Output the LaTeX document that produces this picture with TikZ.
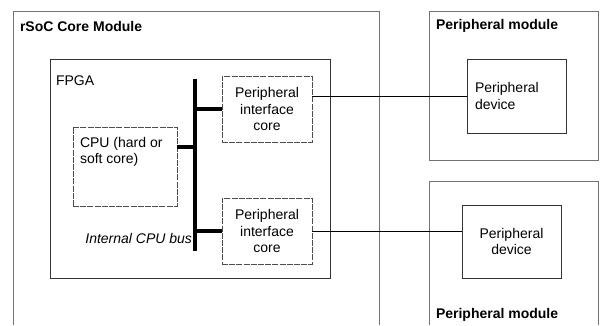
\documentclass[tikz,border=0pt]{standalone}
\usepackage{fontspec}
\setmainfont{Liberation Sans}
\begin{document}
\begin{tikzpicture}[x=1pt,y=-1pt,
  every node/.style={font=\fontsize{14}{16.3}\selectfont, inner sep=0pt, outer sep=0pt},
  modline/.style={draw=black!55, line width=1pt},
  fpgabox/.style={draw=black!80, line width=0.9pt},
  corebox/.style={draw=black!70, line width=0.8pt, dash pattern=on 6pt off 1.2pt},
  devbox/.style={draw=black!80, line width=0.9pt},
  busline/.style={line width=3.2pt, black},
  wire/.style={line width=0.8pt, black},
  title/.style={font=\bfseries\fontsize{14}{16.3}\selectfont, anchor=west}]
\useasboundingbox (0,0) rectangle (601,325);
% modules (open at the bottom)
\draw[modline] (13,325) -- (13,11) -- (379,11) -- (379,325);
\node[title] (rsoc) at (20,26) {rSoC Core Module};
\node[modline, minimum width=169, minimum height=149] (pm1) at (513.5,85.5) {};
\node[title] (pm1t) at (436,26) {Peripheral module};
\draw[modline] (429,325) -- (429,181) -- (598,181) -- (598,325);
\node[title] (pm2t) at (436,315) {Peripheral module};
% FPGA
\node[fpgabox, minimum width=280, minimum height=219] (fpga) at (190,168.5) {};
\node[anchor=west] (fpgat) at (56,81) {FPGA};
% cores
\node[corebox, minimum width=90, minimum height=66, align=center] (pic1) at (267,109) {Peripheral\\interface\\core};
\node[corebox, minimum width=90, minimum height=66, align=center] (pic2) at (267,231) {Peripheral\\interface\\core};
\node[corebox, minimum width=104, minimum height=79] (cpu) at (125,166.5) {};
\node[anchor=north west, align=left] (cput) at (80,137) {CPU (hard or\\soft core)};
% bus
\coordinate (bt) at (195,79);
\coordinate (bb) at (195,251);
\draw[busline] (bt) -- (bb);
\draw[busline] (pic1.west) -- (pic1.west -| bt);
\draw[busline] (pic2.west) -- (pic2.west -| bt);
\draw[busline] ([yshift=19.5pt]cpu.east) -- ([yshift=19.5pt]cpu.east -| bt);
\node[anchor=east, font=\itshape\fontsize{14}{16.3}\selectfont] (bus) at (192,238) {Internal CPU bus};
% devices
\node[devbox, minimum width=99, minimum height=74] (dev1) at (516.5,96) {};
\node[anchor=west, align=left] (dev1t) at (475,96) {Peripheral\\device};
\node[devbox, minimum width=99, minimum height=73, align=center] (dev2) at (511.5,241.5) {Peripheral\\device};
% wires
\draw[wire] (dev1.west) -- (dev1.west -| pic1.east);
\draw[wire] (pic2.east) -- (pic2.east -| dev2.west);
\end{tikzpicture}
\end{document}
